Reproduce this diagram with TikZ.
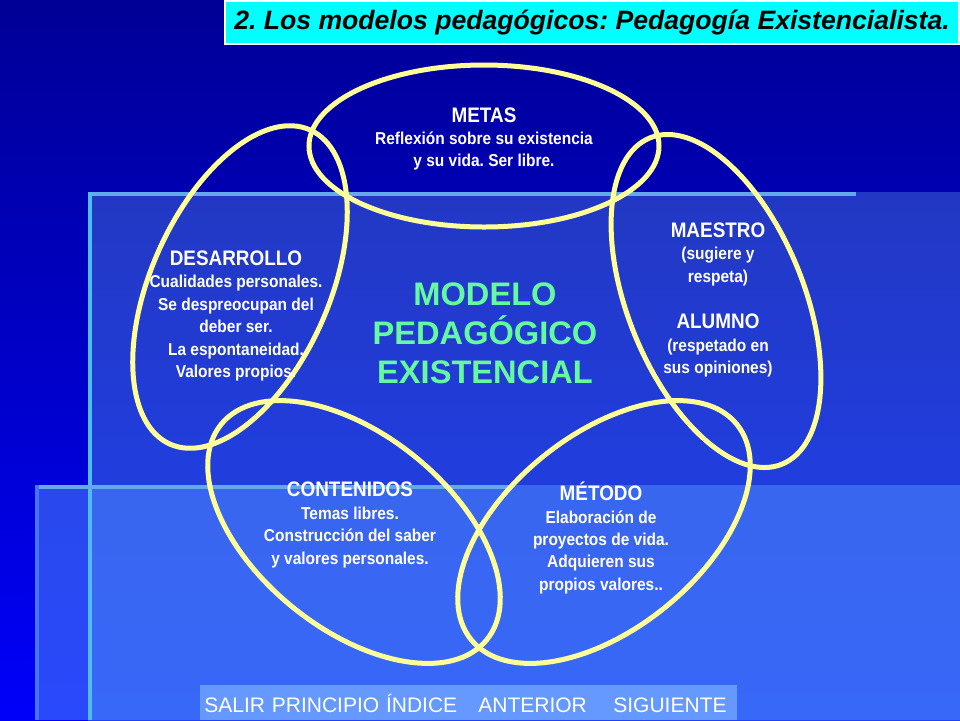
\documentclass[tikz,border=0pt]{standalone}
\usepackage{fontspec}
\setmainfont{Liberation Sans}
\newfontfamily\narrowfont[FakeStretch=0.9]{Liberation Sans}
\usepackage{tikz}
\usetikzlibrary{positioning}
\usepackage{xcolor}
\frenchspacing
\definecolor{bgtop}{RGB}{0,0,150}
\definecolor{bgbottom}{RGB}{0,0,250}
\definecolor{paneltop}{RGB}{34,56,196}
\definecolor{panelbottom}{RGB}{32,66,242}
\definecolor{frontpanel}{RGB}{79,138,255}
\definecolor{edgeblue}{RGB}{100,170,235}
\definecolor{ringyellow}{RGB}{255,255,153}
\definecolor{mintgreen}{RGB}{102,250,160}
\definecolor{navblue}{RGB}{102,153,255}
\definecolor{titlecyan}{RGB}{0,255,255}
\tikzstyle{ring} = [line width=2.5pt,color=ringyellow]
\tikzstyle{blocktext} = [text=white,align=center,inner sep=0pt,font=\narrowfont\bfseries\fontsize{8.6}{11.2}\selectfont]
\tikzstyle{navtext} = [text=white,inner sep=0pt,font=\fontsize{10.5}{12}\selectfont]
\newcommand{\headline}[1]{{\fontsize{10.5}{11.2}\selectfont #1}}

\begin{document}
\begin{tikzpicture}[x=0.5pt,y=-0.5pt]
% Background and panels
\shade[top color=bgtop,bottom color=bgbottom] (0,0) rectangle (960,720);
\shade[top color=paneltop,bottom color=panelbottom] (88,192) rectangle (960,720);
\fill[frontpanel,opacity=0.53] (35,485) rectangle (960,720);
\fill[edgeblue] (88,192) rectangle (856,196);
\fill[edgeblue!80!cyan] (88,192) rectangle (92,720);
\fill[edgeblue] (35,485) rectangle (512,489);
\fill[edgeblue!70!blue] (35,485) rectangle (39,720);
\fill[navblue] (200,685) rectangle (737,720);

% Ellipses
\coordinate (cMetas) at (484,146);
\coordinate (cDesarrollo) at (240,287);
\coordinate (cMaestro) at (716,301);
\coordinate (cContenidos) at (354,532);
\coordinate (cMetodo) at (604,532);
\draw[ring] (cMetas) ellipse (175 and 81);
\draw[ring,rotate around={66:(cDesarrollo)}] (cDesarrollo) ellipse (172 and 89);
\draw[ring,rotate around={112:(cMaestro)}] (cMaestro) ellipse (176 and 88);
\draw[ring,rotate around={-39:(cContenidos)}] (cContenidos) ellipse (171 and 97);
\draw[ring,rotate around={39:(cMetodo)}] (cMetodo) ellipse (171 and 97);

% Labels
\node[blocktext] (metas) at (484,139) {\headline{METAS}\\ Reflexión sobre su existencia\\ y su vida. Ser libre.};
\node[blocktext] (desarrollo) at (236,316) {\headline{DESARROLLO}\\ Cualidades personales.\\ Se despreocupan del\\ deber ser.\\ La espontaneidad.\\ Valores propios.};
\node[blocktext] (maestro) at (718,300) {\headline{MAESTRO}\\ (sugiere y\\ respeta)\\[12pt] \headline{ALUMNO}\\ (respetado en\\ sus opiniones)};
\node[blocktext] (contenidos) at (350,525) {\headline{CONTENIDOS}\\ Temas libres.\\ Construcción del saber\\ y valores personales.};
\node[blocktext] (metodo) at (601,538) {\headline{MÉTODO}\\ Elaboración de\\ proyectos de vida.\\ Adquieren sus\\ propios valores..};
\node[text=mintgreen,align=center,inner sep=0pt,font=\bfseries\fontsize{16.3}{19.5}\selectfont] (modelo) at (485,333) {MODELO\\ PEDAGÓGICO\\ EXISTENCIAL};

% Title
\node[fill=titlecyan,draw=white,line width=1pt,anchor=north east,minimum width=367pt,minimum height=21.5pt,inner sep=0pt,font=\bfseries\itshape\fontsize{13.3}{15}\selectfont] (title) at (960,0) {2. Los modelos pedagógicos: Pedagogía Existencialista.};

% Navigation
\node[navtext,anchor=base west] (salir) at (204,712) {SALIR};
\node[navtext,base right=3pt of salir] (principio) {PRINCIPIO};
\node[navtext,base right=3pt of principio] (indice) {ÍNDICE};
\node[navtext,anchor=base west] (anterior) at (478,712) {ANTERIOR};
\node[navtext,anchor=base west] (siguiente) at (613,712) {SIGUIENTE};
\end{tikzpicture}
\end{document}
